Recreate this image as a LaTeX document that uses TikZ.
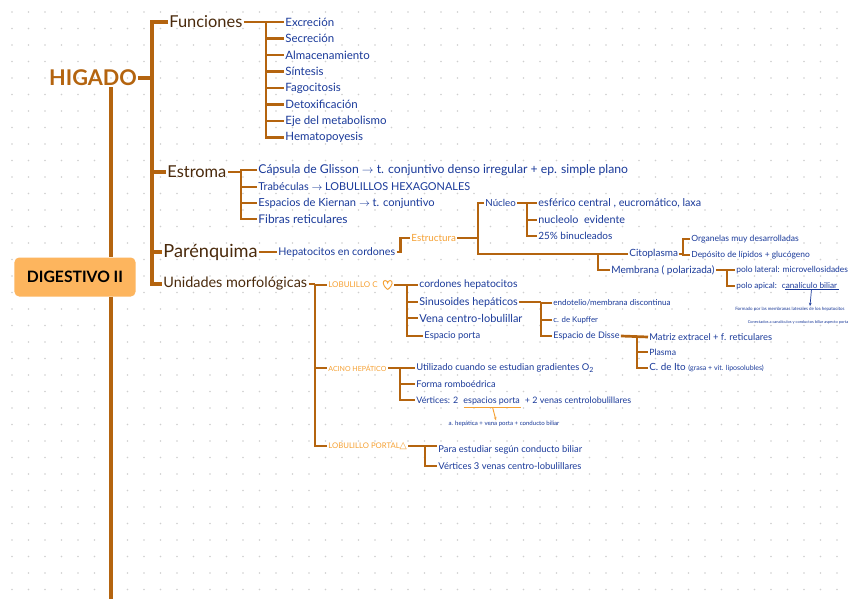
\documentclass[tikz,border=0pt]{standalone}
\usepackage{fontspec}
\setmainfont{Lato}
\newfontfamily\simbolos{DejaVu Sans}
\usepackage{tikz}
\usetikzlibrary{arrows.meta}
\usetikzlibrary{calc}
\usepackage{xcolor}

\definecolor{cafe}{HTML}{B4640F}
\definecolor{marron}{HTML}{4A2A0C}
\definecolor{tinta}{HTML}{1A3A9A}
\definecolor{ambar}{HTML}{F6A133}
\definecolor{caja}{HTML}{FDB55E}
\definecolor{punto}{HTML}{CFCFCF}
\newcommand\tam[1]{\fontsize{#1}{#1}\selectfont}

\begin{document}
\begin{tikzpicture}[x=0.3mm,y=-0.3mm,
    br/.style={draw=cafe,line width=2.3pt},
    tronco/.style={draw=cafe,line width=3pt},
    tema/.style={text=marron,inner sep=1pt,anchor=west,font=\tam{14}},
    item/.style={text=tinta,inner sep=1pt,anchor=west,font=\tam{9.8}},
    unidad/.style={text=ambar,inner sep=1pt,anchor=west,font=\tam{6.6}},
    nota/.style={text=tinta,inner sep=0.5pt,font=\tam{3.8}}]

    % hoja punteada
    \useasboundingbox (0,0) rectangle (848,599);
    \fill[white] (0,0) rectangle (848,599);
    \foreach \i in {0,...,50}
        \foreach \j in {0,...,35}
            \fill[punto] ({12+16.5*\i},{12+16.5*\j}) circle (0.9);

    % tronco
    \node[text=cafe,inner sep=1pt,font=\bfseries\tam{18.5}] (hig) at (93,78) {HIGADO};
    \node[fill=caja,rounded corners=4pt,minimum width=36.3mm,minimum height=11.7mm,
          font=\bfseries\tam{13.4}] (dig) at (75,277) {DIGESTIVO II};
    \coordinate (tr) at (111,0);
    \coordinate (fondo) at (111,599);
    \draw[tronco] (tr |- hig.south) -- (tr |- dig.north);
    \draw[tronco] (tr |- dig.south) -- (fondo);

    % ramas del higado
    \node[tema] (fun) at (168,22) {Funciones};
    \node[tema] (est) at (166,172) {Estroma};
    \node[tema,font=\tam{15.5}] (par) at (162,252) {Parénquima};
    \node[tema,font=\tam{12.3}] (uni) at (162,284) {Unidades morfológicas};
    \coordinate (mb) at (152,0);
    \draw[tronco] (hig.east) -- (mb |- hig.east);
    \draw[tronco] (fun.west) -| (mb |- uni.west) -- (uni.west);
    \draw[tronco] (mb |- est.west) -- (est.west);
    \draw[tronco] (mb |- par.west) -- (par.west);

    % funciones
    \foreach \t [count=\i] in {Excreción,Secreción,Almacenamiento,Síntesis,
        Fagocitosis,Detoxificación,Eje del metabolismo,Hematopoyesis}
        \node[item] (f\i) at (284,{22+16.5*(\i-1)}) {\t};
    \coordinate (fb) at (266,0);
    \draw[br] (fun.east) -- (f1.west);
    \draw[br] (fb |- f1.west) |- (f8.west);
    \foreach \i in {2,...,7}
        \draw[br] (fb |- f\i.west) -- (f\i.west);

    % estroma
    \node[item,font=\tam{10.4}] (e1) at (257,170) {Cápsula de Glisson $\rightarrow$ t. conjuntivo denso irregular + ep. simple plano};
    \node[item,font=\tam{9.3}] (e2) at (257,187) {Trabéculas $\rightarrow$ LOBULILLOS HEXAGONALES};
    \node[item,font=\tam{9.5}] (e3) at (257,203) {Espacios de Kiernan $\rightarrow$ t. conjuntivo};
    \node[item,font=\tam{10.2}] (e4) at (257,219) {Fibras reticulares};
    \coordinate (eb) at (241,0);
    \draw[br] (est.east) -- (eb |- est.east);
    \draw[br] (e1.west) -| (eb |- e4.west) -- (e4.west);
    \draw[br] (eb |- e2.west) -- (e2.west);
    \draw[br] (eb |- e3.west) -- (e3.west);

    % parenquima
    \node[item,font=\tam{9.1}] (hep) at (277,252) {Hepatocitos en cordones};
    \node[unidad,font=\tam{8.4}] (estr) at (410,238) {Estructura};
    \draw[br] (par.east) -- (hep.west);
    \draw[br] (hep.east) -- ++(4,0) |- (estr.west);

    \node[item,font=\tam{8.3}] (nuc) at (484,203) {Núcleo};
    \node[item,font=\tam{8.5}] (cit) at (628,254) {Citoplasma};
    \node[item,font=\tam{8.6}] (mem) at (610,270) {Membrana ( polarizada)};
    \coordinate (sb) at (478,0);
    \coordinate (cb) at (598,0);
    \draw[br] (estr.east) -- (sb |- estr.east);
    \draw[br] (nuc.west) -| (sb |- cit.west) -- (cit.west);
    \draw[br] (cb |- cit.west) |- (mem.west);

    % nucleo
    \node[item,font=\tam{9.2}] (n1) at (537,203) {esférico central , eucromático, laxa};
    \node[item,font=\tam{9.2}] (n2) at (537,220) {nucleolo \ evidente};
    \node[item,font=\tam{8.5}] (n3) at (537,236) {25\% binucleados};
    \coordinate (nb) at (527,0);
    \draw[br] (nuc.east) -- (n1.west);
    \draw[br] (nb |- n1.west) |- (n3.west);
    \draw[br] (nb |- n2.west) -- (n2.west);

    % citoplasma
    \node[item,font=\tam{7.3}] (c1) at (690,239) {Organelas muy desarrolladas};
    \node[item,font=\tam{7.2}] (c2) at (690,255) {Depósito de lípidos + glucógeno};
    \coordinate (ob) at (683,0);
    \draw[br] (cit.east) -- (ob |- cit.east);
    \draw[br] (c1.west) -| (ob |- c2.west) -- (c2.west);

    % membrana
    \node[item,font=\tam{7.2}] (p1) at (735,270) {polo lateral: microvellosidades};
    \node[item,font=\tam{7}] (p2) at (735,286) {polo apical:};
    \node[item,font=\tam{7},anchor=base west] (can) at (p2.base east) {\ canalículo biliar};
    \coordinate (pb) at (727,0);
    \draw[br] (mem.east) -- (p1.west);
    \draw[br] (pb |- p1.west) |- (p2.west);
    \node[nota] (can1) at (790,309) {Formado por las membranas laterales de los hepatocitos};
    \node[nota,font=\tam{3.4}] (can2) at (798,322) {Conectados a canalículos y conductos biliar aspecto porta};
    \draw[tinta,line width=0.8pt] ($(can.south west)+(7,0)$) -- (can.south east);
    \draw[tinta,line width=0.6pt,-{Stealth[length=3pt]}] ($(can.south)+(3,0)$) -- ($(can1.north)+(20,0)$);

    % unidades morfologicas
    \node[unidad,font=\tam{6.8}] (lob) at (327,285) {LOBULILLO C};
    \node[inner sep=0pt,minimum width=11,minimum height=10,anchor=west] (cor) at ($(lob.east)+(2,0)$) {};
    \draw[ambar,line width=0.8pt,shift={(cor.center)}]
        (0,4.5) .. controls (-6,0) and (-5,-4.5) .. (-2.5,-4.5)
        .. controls (-1,-4.5) and (0,-3) .. (0,-2)
        .. controls (0,-3) and (1,-4.5) .. (2.5,-4.5)
        .. controls (5,-4.5) and (6,0) .. (0,4.5);
    \node[unidad,font=\tam{6}] (aci) at (327,368) {ACINO HEPÁTICO};
    \node[unidad] (lpo) at (327,446) {LOBULILLO PORTAL{\simbolos\tam{8}△}};
    \coordinate (ub) at (315,0);
    \draw[br] (uni.east) -- (ub |- uni.east);
    \draw[br] (lob.west) -| (ub |- lpo.west) -- (lpo.west);
    \draw[br] (ub |- aci.west) -- (aci.west);

    % lobulillo clasico
    \node[item,font=\tam{8.9}] (l1) at (418,285) {cordones hepatocitos};
    \node[item,font=\tam{9.2}] (l2) at (418,302) {Sinusoides hepáticos};
    \node[item,font=\tam{9.4}] (l3) at (418,318) {Vena centro-lobulillar};
    \node[item,font=\tam{8}] (l4) at (423,336) {Espacio porta};
    \coordinate (lb) at (407,0);
    \draw[br] (cor.east) -- (l1.west);
    \draw[br] (lb |- l1.west) -- (lb |- l4.west) -- (l4.west);
    \draw[br] (lb |- l2.west) -- (l2.west);
    \draw[br] (lb |- l3.west) -- (l3.west);

    % sinusoides
    \node[item,font=\tam{6.9}] (s1) at (552,303) {endotelio/membrana discontinua};
    \node[item,font=\tam{6.7}] (s2) at (552,320) {c. de Kupffer};
    \node[item,font=\tam{7.7}] (s3) at (552,336) {Espacio de Disse};
    \coordinate (kb) at (541,0);
    \draw[br] (l2.east) -- (kb |- l2.east);
    \draw[br] (s1.west) -| (kb |- s3.west) -- (s3.west);
    \draw[br] (kb |- s2.west) -- (s2.west);

    % espacio de Disse
    \node[item,font=\tam{8}] (d1) at (648,337) {Matriz extracel + f. reticulares};
    \node[item,font=\tam{7.4}] (d2) at (648,352) {Plasma};
    \node[item,font=\tam{8.4}] (d3) at (648,368) {C. de Ito {\tam{6}(grasa + vit. liposolubles)}};
    \coordinate (db) at (637,0);
    \draw[br] (s3.east) -- (d1.west);
    \draw[br] (db |- d1.west) |- (d3.west);
    \draw[br] (db |- d2.west) -- (d2.west);

    % acino hepatico
    \node[item,font=\tam{8}] (a1) at (415,368) {Utilizado cuando se estudian gradientes O\textsubscript{2}};
    \node[item,font=\tam{7.9}] (a2) at (415,384) {Forma romboédrica};
    \node[item,font=\tam{7.6}] (a3) at (415,400) {Vértices: 2};
    \node[item,font=\tam{7.6},anchor=base west] (ep) at (a3.base east) {\ espacios porta};
    \node[item,font=\tam{7.6},anchor=base west] (vc) at (ep.base east) {\ + 2 venas centrolobulillares};
    \node[nota,font=\tam{5.2}] (ap) at (504,424) {a. hepática + vena porta + conducto biliar};
    \coordinate (ab) at (400,0);
    \draw[br] (aci.east) -- (a1.west);
    \draw[br] (ab |- a1.west) |- (a3.west);
    \draw[br] (ab |- a2.west) -- (a2.west);
    \draw[ambar,line width=0.9pt] ($(ep.south west)+(4,1)$) -- ($(ep.south east)+(0,1)$);
    \draw[ambar,line width=0.8pt,-{Stealth[length=3pt]}] ($(ep.south)+(2,1)$) -- ($(ap.north)+(-8,0)$);

    % lobulillo portal
    \node[item,font=\tam{8}] (q1) at (437,450) {Para estudiar según conducto biliar};
    \node[item,font=\tam{8}] (q2) at (437,466) {Vértices 3 venas centro-lobulillares};
    \coordinate (qb) at (425,0);
    \draw[br] (lpo.east) -- (lpo.east -| q1.west);
    \draw[br] (qb |- lpo.east) |- (q2.west);

\end{tikzpicture}
\end{document}
